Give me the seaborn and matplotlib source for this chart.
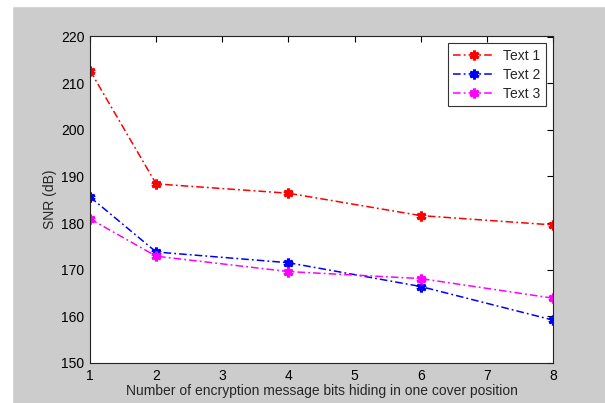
import matplotlib
matplotlib.use("Agg")
import matplotlib.pyplot as plt
import numpy as np
import pandas as pd
import seaborn as sns
from matplotlib.patches import Rectangle

sns.set_style("white")
plt.rcParams["font.family"] = ["Liberation Sans", "DejaVu Sans"]

bits = [1, 2, 4, 6, 8]
text1 = [212.7, 188.4, 186.4, 181.6, 179.6]
text2 = [185.6, 173.8, 171.5, 166.4, 159.2]
text3 = [180.9, 172.9, 169.6, 168.1, 163.9]
series = ["Text 1", "Text 2", "Text 3"]

rows = []
for name, vals in zip(series, [text1, text2, text3]):
    for b, v in zip(bits, vals):
        rows.append([name, b, v])
df = pd.DataFrame(rows, columns=["series", "bits", "snr"])

pal = {"Text 1": "#ff0000", "Text 2": "#0000ff", "Text 3": "#ff00ff"}

fig = plt.figure(figsize=(6.05, 4.03), dpi=100, facecolor="#cccccc")
# white strip on top/left like the screenshot
fig.patches.append(Rectangle((0, 0), 12 / 605, 1, transform=fig.transFigure, color="white", zorder=-1))
fig.patches.append(Rectangle((0, 1 - 6 / 403), 1, 6 / 403, transform=fig.transFigure, color="white", zorder=-1))

ax = fig.add_axes([90 / 605, 1 - 363 / 403, (553 - 90) / 605, (363 - 36.5) / 403])
ax.set_facecolor("white")

sns.lineplot(data=df, x="bits", y="snr", hue="series", palette=pal, ax=ax,
             marker=(6, 2, 0), markersize=7, linewidth=1.1, legend=False)
for line in ax.lines:
    c = line.get_color()
    line.set_markeredgecolor(c)
    line.set_markerfacecolor(c)
    line.set_markeredgewidth(2.2)
    line.set_dashes([5, 2, 1.2, 2])

ax.set_xlim(1, 8)
ax.set_ylim(150, 220)
ax.set_xticks(range(1, 9))
ax.set_yticks(range(150, 221, 10))
ax.tick_params(direction="in", top=True, right=True, length=4, width=0.8, labelsize=10,
               colors="black", pad=4)
for s in ax.spines.values():
    s.set_visible(True)
    s.set_color("#222222")
    s.set_linewidth(0.8)

ax.set_xlabel("Number of encryption message bits hiding in one cover position", fontsize=10, labelpad=1)
ax.set_ylabel("SNR (dB)", fontsize=10, labelpad=3)

leg = ax.legend(ax.lines, series, loc="upper right", fontsize=10, frameon=True, fancybox=False,
                borderaxespad=0.5, handlelength=3.0, handletextpad=0.6, numpoints=1,
                labelspacing=0.35, borderpad=0.4, edgecolor="black")
leg.get_frame().set_linewidth(0.8)

fig.savefig("out.png", dpi=100, facecolor=fig.get_facecolor())
